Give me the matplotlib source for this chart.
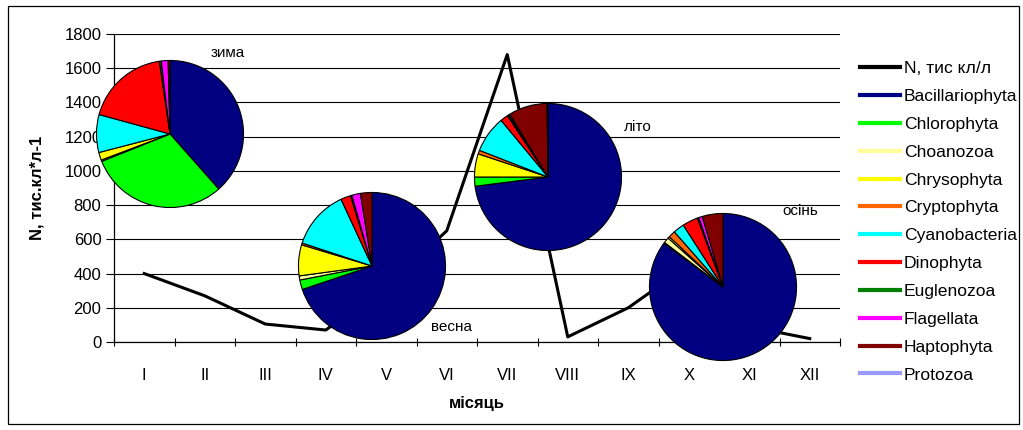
import matplotlib
matplotlib.use("Agg")
import matplotlib.pyplot as plt
from matplotlib.lines import Line2D
from matplotlib.patches import Rectangle

plt.rcParams['font.family'] = ['Liberation Sans', 'DejaVu Sans']

# Monthly abundance, thousand cells per litre
months = ['I', 'II', 'III', 'IV', 'V', 'VI', 'VII', 'VIII', 'IX', 'X', 'XI', 'XII']
abundance = [400, 270, 105, 70, 320, 650, 1680, 30, 200, 450, 90, 20]

# Seasonal share of each group, %
taxa = ['Bacillariophyta', 'Chlorophyta', 'Choanozoa', 'Chrysophyta', 'Cryptophyta',
        'Cyanobacteria', 'Dinophyta', 'Euglenozoa', 'Flagellata', 'Haptophyta', 'Protozoa']
taxa_colors = ['#000080', '#00FF00', '#FFFF99', '#FFFF00', '#FF6600',
               '#00FFFF', '#FF0000', '#008000', '#FF00FF', '#800000', '#9999FF']
winter = [38.4, 30.4, 0.3, 1.7, 0.0, 8.3, 18.4, 0.4, 1.5, 0.4, 0.0]
spring = [69.7, 2.1, 0.9, 6.8, 0.4, 13.0, 2.2, 0.3, 1.9, 2.5, 0.0]
summer = [73.0, 2.0, 0.0, 5.1, 0.8, 8.1, 1.7, 0.3, 0.3, 8.5, 0.2]
autumn = [84.4, 0.2, 1.2, 0.4, 1.5, 2.4, 3.4, 0.3, 0.8, 4.5, 0.0]
seasons = ['зима', 'весна', 'літо', 'осінь']

W, H = 1023, 430
fig = plt.figure(figsize=(W / 100, H / 100), dpi=100)


def fx(x):
    return x / W


def fy(y):
    return 1 - y / H


# main line chart
ax = fig.add_axes([fx(114), fy(342), fx(840) - fx(114), fy(34) - fy(342)])
xs = [i + 0.5 for i in range(len(months))]
ax.plot(xs, abundance, color='black', lw=2.2, zorder=3)
ax.set_xlim(0, 12)
ax.set_ylim(0, 1800)
ax.set_yticks(range(0, 1801, 200))
ax.set_xticks(range(0, 13))
ax.set_xticklabels([])
ax.set_xticks(xs, minor=True)
ax.set_xticklabels(months, minor=True)
ax.tick_params(axis='x', which='major', length=6, direction='inout', width=0.8)
ax.tick_params(axis='x', which='minor', length=0, pad=19, labelsize=12)
ax.tick_params(axis='y', length=6, width=0.8, pad=3, labelsize=12)
ax.grid(axis='y', color='black', lw=0.8)
ax.set_axisbelow(True)
for s in ['top', 'right']:
    ax.spines[s].set_visible(False)
for s in ['left', 'bottom']:
    ax.spines[s].set_linewidth(0.9)
ax.set_ylabel('N, тис.кл*л-1', fontsize=12, fontweight='bold', labelpad=14)
ax.set_xlabel('місяць', fontsize=12, fontweight='bold', labelpad=9)

# seasonal pies: centre (px), label position (px)
pie_specs = [
    (winter, (170, 134), (228, 53)),
    (spring, (372, 266), (452, 327)),
    (summer, (548, 177), (638, 127)),
    (autumn, (723, 287), (800, 211)),
]
r = 75
for (vals, (cx, cy), (tx, ty)), name in zip(pie_specs, seasons):
    pax = fig.add_axes([fx(cx - r), fy(cy + r), fx(2 * r), fy(0) - fy(2 * r)])
    v = [a for a in vals if a > 0]
    c = [col for a, col in zip(vals, taxa_colors) if a > 0]
    pax.pie(v, colors=c, startangle=90, counterclock=False,
            wedgeprops=dict(edgecolor='black', linewidth=0.8))
    pax.set_xlim(-1.02, 1.02)
    pax.set_ylim(-1.02, 1.02)
    pax.set_zorder(5)
    fig.text(fx(tx), fy(ty), name, fontsize=11, ha='center', va='center', zorder=6)

# legend
handles = [Line2D([], [], color='black', lw=3)]
labels = ['N, тис кл/л']
for t, col in zip(taxa, taxa_colors):
    handles.append(Line2D([], [], color=col, lw=3))
    labels.append(t)
fig.legend(handles, labels, loc='upper left', bbox_to_anchor=(fx(860), fy(61)),
           frameon=False, fontsize=12.6, handlelength=2.3, handletextpad=0.2,
           labelspacing=0.72, borderpad=0, borderaxespad=0)

# outer chart frame
fig.patches.append(Rectangle((fx(8), fy(424)), fx(1019) - fx(8), fy(6) - fy(424),
                             transform=fig.transFigure, fill=False,
                             edgecolor='black', lw=0.9))

fig.savefig('out.png', dpi=100)
